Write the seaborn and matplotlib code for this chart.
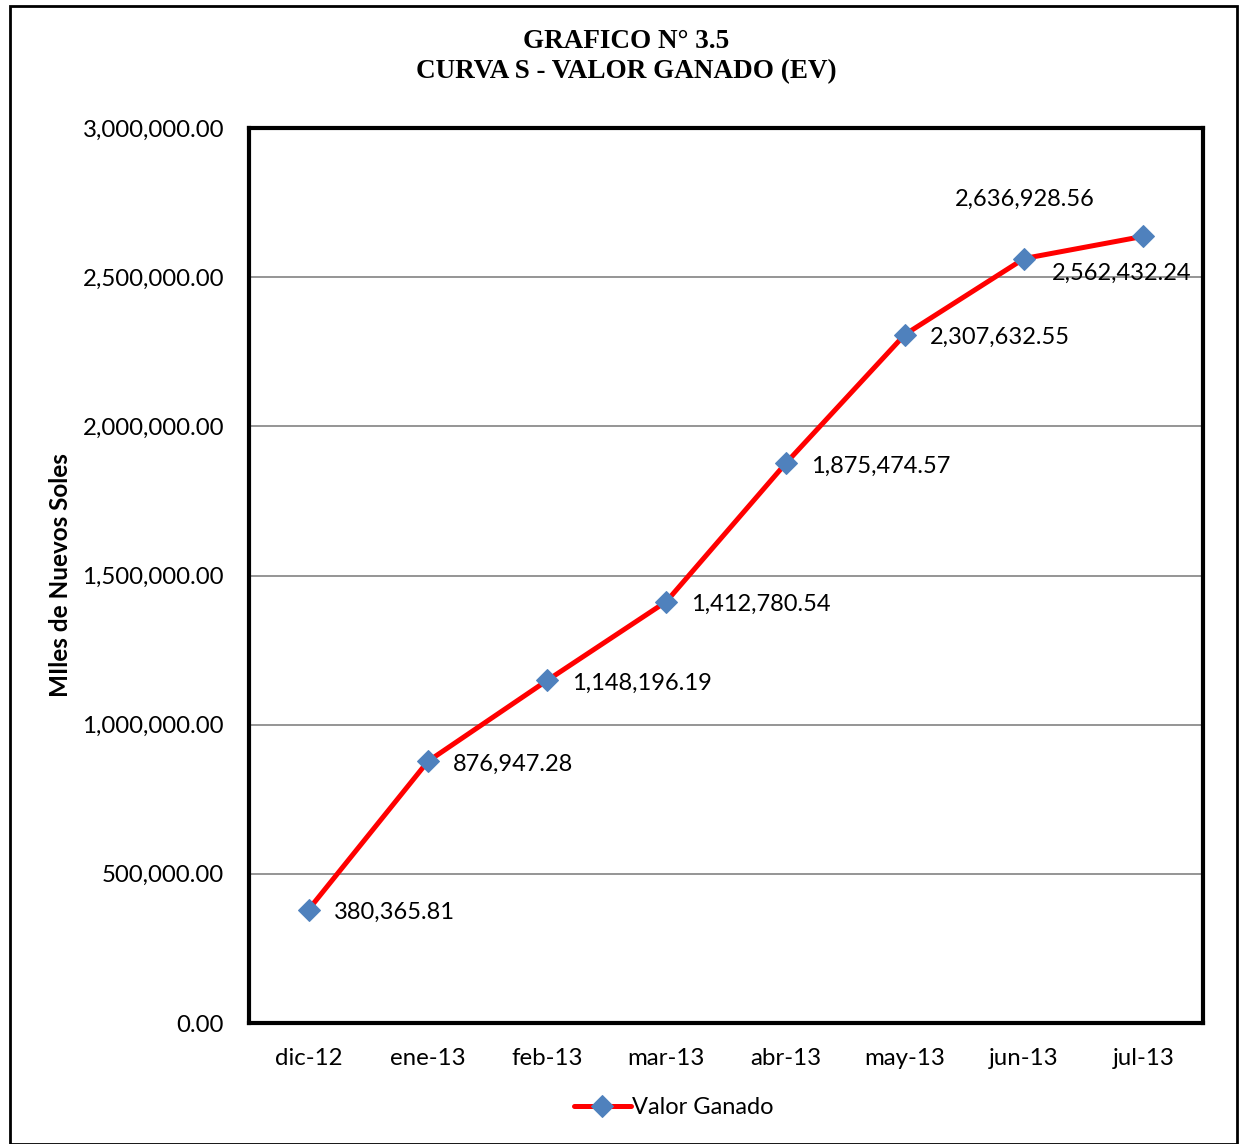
import matplotlib
matplotlib.use("Agg")
import matplotlib.pyplot as plt
import seaborn as sns
import pandas as pd
from matplotlib.patches import Rectangle
from matplotlib.ticker import FuncFormatter, MultipleLocator

months = ["dic-12", "ene-13", "feb-13", "mar-13", "abr-13", "may-13", "jun-13", "jul-13"]
valor_ganado = [380365.81, 876947.28, 1148196.19, 1412780.54, 1875474.57,
                2307632.55, 2562432.24, 2636928.56]
series_name = "Valor Ganado"

df = pd.DataFrame({"mes": months, "valor": valor_ganado, "serie": series_name})

sns.set_theme(style="white")
plt.rcParams["font.family"] = ["Lato", "DejaVu Sans"]
plt.rcParams["text.color"] = "black"
plt.rcParams["axes.labelcolor"] = "black"
plt.rcParams["xtick.color"] = "black"
plt.rcParams["ytick.color"] = "black"

fig = plt.figure(figsize=(12.4, 11.44), dpi=100)
ax = fig.add_axes([249/1240, 1-1023/1144, (1203-249)/1240, (1023-128)/1144])

sns.lineplot(data=df, x="mes", y="valor", hue="serie", palette=["#FF0000"],
             marker="D", markersize=11, markerfacecolor="#4F81BD",
             markeredgecolor="#4F81BD", linewidth=3.6, sort=False, ax=ax)

ax.set_xlim(-0.5, len(months) - 0.5)
ax.set_ylim(0, 3000000)
ax.yaxis.set_major_locator(MultipleLocator(500000))
ax.yaxis.set_major_formatter(FuncFormatter(lambda v, p: f"{v:,.2f}"))
ax.grid(axis="y", color="#8C8C8C", linewidth=1.3)
ax.grid(axis="x", visible=False)
ax.set_axisbelow(True)
ax.tick_params(axis="both", labelsize=17.3, length=0, colors="black")
ax.tick_params(axis="y", pad=18)
ax.tick_params(axis="x", pad=18)
for s in ax.spines.values():
    s.set_color("black")
    s.set_linewidth(3)

ax.set_xlabel("")
ax.set_ylabel("MIles de Nuevos Soles", fontsize=17.5, fontweight="bold", color="black")
ax.yaxis.set_label_coords(-0.186, 0.5)

offsets = [(25, -3, "left")] * 6 + [(28, -15, "left"), (-119, 37, "center")]
for i, (m, v) in enumerate(zip(months, valor_ganado)):
    dx, dy, ha = offsets[i]
    ax.annotate(f"{v:,.2f}", xy=(i, v), xytext=(dx, dy), textcoords="offset pixels",
                ha=ha, va="center", fontsize=17, color="black")

leg = ax.legend(loc="upper center", bbox_to_anchor=(0.445, -0.059), frameon=False,
                fontsize=17, handlelength=2.4, handletextpad=0.05)
for t in leg.get_texts():
    t.set_color("black")
for h in leg.legend_handles:
    h.set_marker("D")
    h.set_markerfacecolor("#4F81BD")
    h.set_markeredgecolor("#4F81BD")
    h.set_markersize(11)

fig.text(626/1240, 1-41/1144, "GRAFICO N° 3.5", ha="center", va="center",
         fontsize=19.5, fontweight="bold", color="black",
         family=["Liberation Serif", "DejaVu Serif"])
fig.text(626/1240, 1-72/1144, "CURVA S - VALOR GANADO (EV)", ha="center", va="center",
         fontsize=19.5, fontweight="bold", color="black",
         family=["Liberation Serif", "DejaVu Serif"])

fig.patches.append(Rectangle((10/1240, 0), (1237-10)/1240, 1-6/1144,
                             transform=fig.transFigure, fill=False,
                             edgecolor="black", linewidth=2))

fig.savefig("out.png", dpi=100)
